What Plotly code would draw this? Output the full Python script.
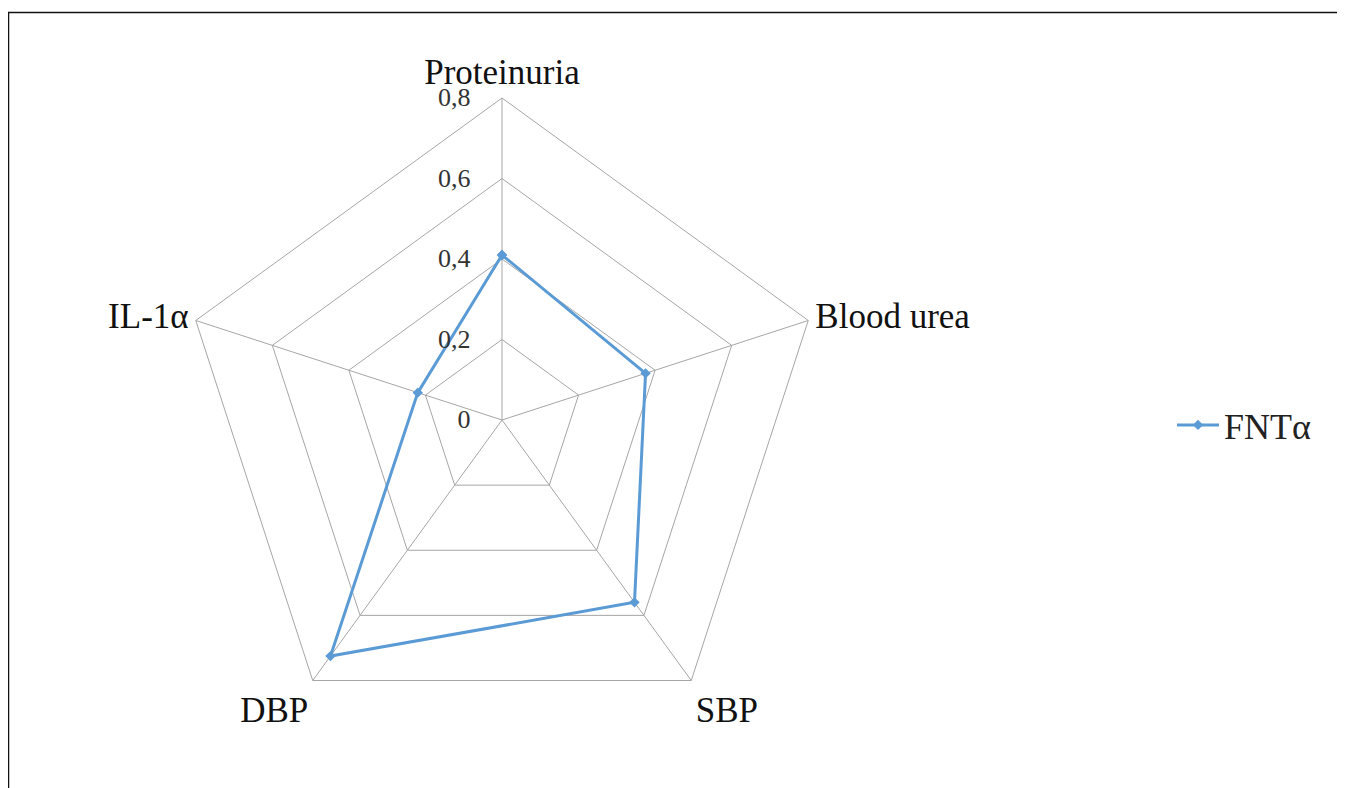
import plotly.graph_objects as go

categories = ["Proteinuria", "Blood urea", "SBP", "DBP", "IL-1α"]
fnt_alpha = [0.41, 0.375, 0.56, 0.725, 0.22]
series_name = "FNTα"
tick_vals = [0, 0.2, 0.4, 0.6, 0.8]
tick_text = ["0", "0,2", "0,4", "0,6", "0,8"]

W, H = 1345, 788
OFF = 8  # page body margin
cx, cy, R = 502 - OFF, 420 - OFF, 322

fig = go.Figure()
fig.add_trace(go.Scatterpolar(
    r=fnt_alpha + [fnt_alpha[0]],
    theta=categories + [categories[0]],
    mode="lines+markers",
    name=series_name,
    line=dict(color="#5b9bd5", width=3),
    marker=dict(symbol="diamond", size=8, color="#5b9bd5"),
))

fig.update_layout(
    width=W, height=H,
    margin=dict(l=0, r=0, t=0, b=0),
    paper_bgcolor="white",
    separators=", ",
    font=dict(family="Liberation Serif, Times New Roman, serif", color="#222222"),
    polar=dict(
        domain=dict(x=[(cx - R) / W, (cx + R) / W], y=[1 - (cy + R) / H, 1 - (cy - R) / H]),
        bgcolor="white",
        gridshape="linear",
        radialaxis=dict(
            range=[0, 0.8],
            tickvals=tick_vals,
            ticktext=tick_text,
            angle=90,
            tickangle=90,
            side="counterclockwise",
            showline=False,
            showgrid=True,
            gridcolor="#a6a6a6",
            gridwidth=1,
            ticks="outside",
            ticklen=22,
            tickcolor="rgba(0,0,0,0)",
            tickfont=dict(size=26, color="#333333"),
        ),
        angularaxis=dict(
            direction="clockwise",
            rotation=90,
            showline=True,
            linecolor="#a6a6a6",
            linewidth=1,
            showgrid=True,
            gridcolor="#a6a6a6",
            gridwidth=1,
            ticks="",
            tickfont=dict(size=35, color="#111111"),
        ),
    ),
    showlegend=True,
    legend=dict(
        x=(1172 - OFF) / W, y=1 - (425 - OFF) / H, xanchor="left", yanchor="middle",
        font=dict(size=36, color="#222222"),
        itemwidth=42,
        bgcolor="rgba(0,0,0,0)",
    ),
    shapes=[dict(
        type="rect", xref="paper", yref="paper",
        x0=0.5 / W, x1=1.02, y0=-0.02, y1=1 - 4.5 / H,
        line=dict(color="#111111", width=1.5),
    )],
)

fig.write_html("out.html")
